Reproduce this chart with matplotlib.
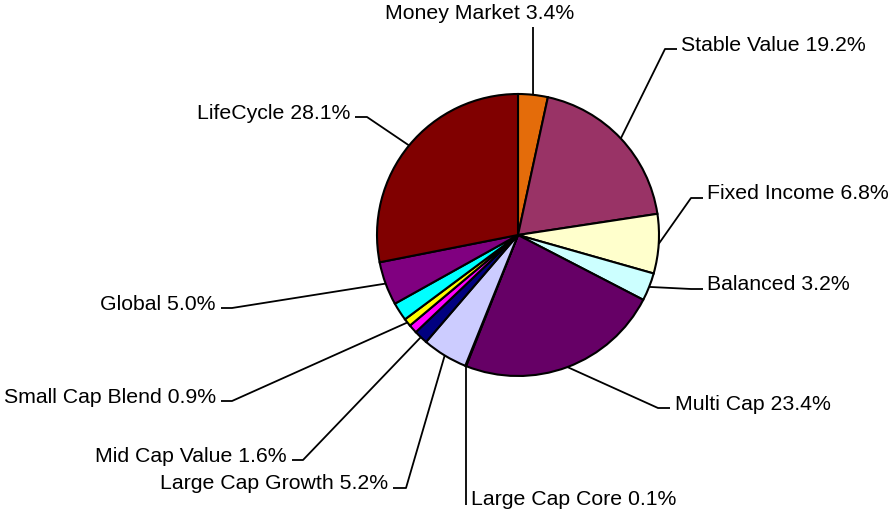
import numpy as np
from matplotlib import pyplot as plt

plt.rcParams['font.family'] = ['Liberation Sans', 'DejaVu Sans']

# slices, clockwise from 12 o'clock
names = ["Money Market", "Stable Value", "Fixed Income", "Balanced", "Multi Cap",
         "Large Cap Core", "Large Cap Growth", "Mid Cap Value", "Other A",
         "Small Cap Blend", "Other B", "Global", "LifeCycle"]
values = [3.4, 19.2, 6.8, 3.2, 23.4, 0.1, 5.2, 1.6, 1.0, 0.9, 2.1, 5.0, 28.1]
labeled = [True, True, True, True, True, True, True, True, False, True, False, True, True]
colors = ["#E46C0A", "#993366", "#FFFFCC", "#CCFFFF", "#660066", "#0066CC",
          "#CCCCFF", "#000080", "#FF00FF", "#FFFF00", "#00FFFF", "#800080", "#800000"]

W, H = 894, 512
def Y(py):
    return H - py

fig = plt.figure(figsize=(8.94, 5.12), dpi=100)
ax = fig.add_axes([0, 0, 1, 1])

cx, cy, r = 518, Y(235), 141
wedges, _ = ax.pie(values, colors=colors, startangle=90, counterclock=False,
                   center=(cx, cy), radius=r, frame=True,
                   wedgeprops=dict(edgecolor='black', linewidth=1.5))
ax.set_xlim(0, W)
ax.set_ylim(0, H)
ax.set_aspect('equal')
ax.axis('off')

# label layout (pixels): elbow point, end of short tick, text anchor, alignment
layout = {
    "Money Market":     [(533, 27), None, (480, 19), 'center'],
    "Stable Value":     [(665, 49), (677, 49), (681, 51), 'left'],
    "Fixed Income":     [(691, 198), (703, 198), (707, 199), 'left'],
    "Balanced":         [(691, 289), (703, 289), (707, 290), 'left'],
    "Multi Cap":        [(658, 408), (670, 408), (675, 410), 'left'],
    "Large Cap Core":   [(None, 505), None, (471, 505), 'left'],
    "Large Cap Growth": [(406, 488), (393, 488), (388, 489), 'right'],
    "Mid Cap Value":    [(303, 460), (292, 460), (287, 462), 'right'],
    "Small Cap Blend":  [(232, 401), (221, 401), (216, 403), 'right'],
    "Global":           [(232, 308), (221, 308), (216, 310), 'right'],
    "LifeCycle":        [(367, 117), (355, 117), (350, 119), 'right'],
}

for w, name, v, lab in zip(wedges, names, values, labeled):
    if not lab:
        continue
    mid = np.deg2rad((w.theta1 + w.theta2) / 2)
    ex = cx + r * np.cos(mid)
    ey = cy + r * np.sin(mid)
    elbow, tick, tpos, ha = layout[name]
    bx = ex if elbow[0] is None else elbow[0]
    xs = [ex, bx]
    ys = [ey, Y(elbow[1])]
    if tick is not None:
        xs.append(tick[0])
        ys.append(Y(tick[1]))
    ax.plot(xs, ys, color='black', lw=1.3, solid_capstyle='butt')
    ax.text(tpos[0], Y(tpos[1]), "%s %.1f%%" % (name, v), ha=ha, va='baseline',
            fontsize=15.3, color='black')

fig.savefig("out.png", dpi=100)
